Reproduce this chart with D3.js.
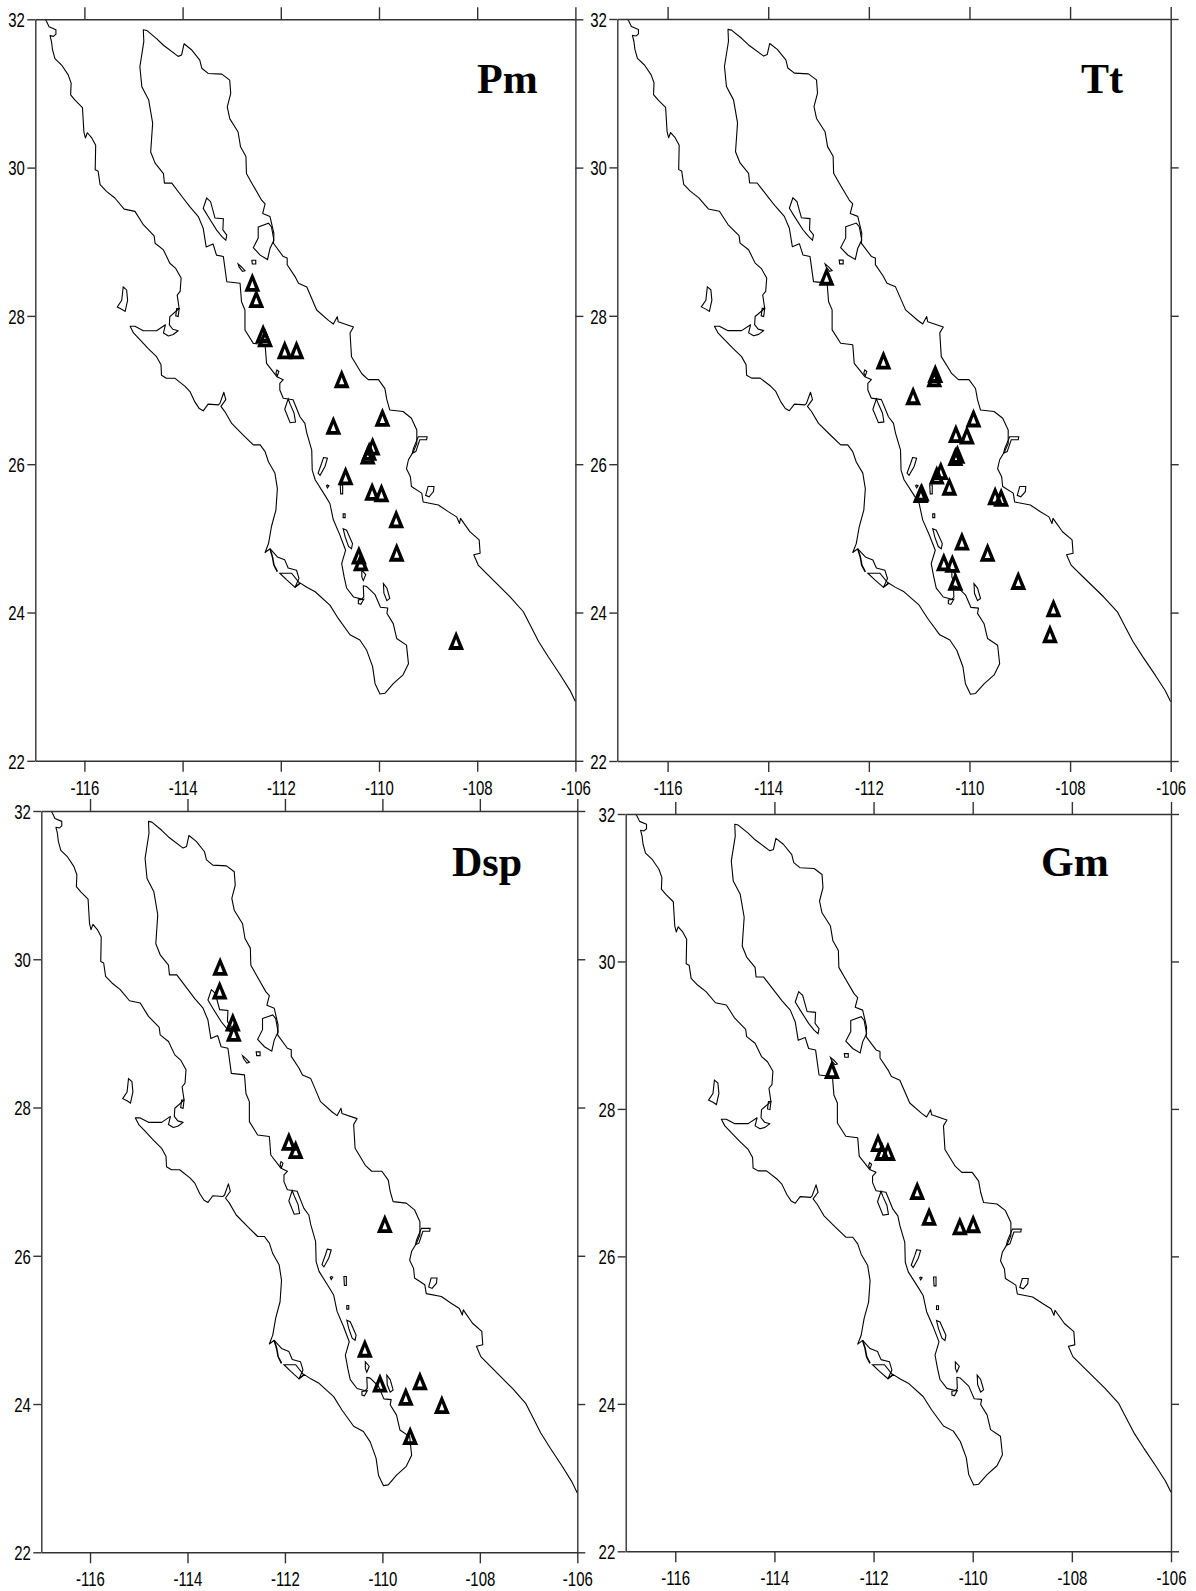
<!DOCTYPE html>
<html><head><meta charset="utf-8">
<script src="https://cdnjs.cloudflare.com/ajax/libs/d3/7.8.5/d3.min.js"></script>
<style>html,body{margin:0;padding:0;background:#fff}svg{display:block}</style>
</head><body><svg id="c" width="1196" height="1591"></svg>
<script>
// Coastline of the Baja California peninsula and the Sonora/Sinaloa coast, [lon, lat]
const coastline = [[-116.80,32.00],[-116.77,31.97],[-116.72,31.90],[-116.58,31.86],[-116.58,31.80],[-116.63,31.77],[-116.70,31.78],[-116.67,31.70],[-116.65,31.59],[-116.60,31.47],[-116.46,31.38],[-116.33,31.25],[-116.27,31.14],[-116.28,30.98],[-116.19,30.91],[-116.04,30.81],[-116.01,30.48],[-115.98,30.40],[-115.94,30.47],[-115.85,30.40],[-115.77,30.30],[-115.78,29.97],[-115.72,29.95],[-115.68,29.77],[-115.55,29.68],[-115.38,29.59],[-115.19,29.44],[-114.97,29.41],[-114.80,29.23],[-114.58,29.08],[-114.56,28.98],[-114.39,28.89],[-114.26,28.71],[-114.14,28.64],[-114.03,28.51],[-114.05,28.33],[-114.11,28.28],[-114.07,28.10],[-114.26,27.99],[-114.27,27.88],[-114.20,27.82],[-114.09,27.80],[-114.19,27.75],[-114.29,27.73],[-114.39,27.77],[-114.35,27.88],[-114.53,27.80],[-114.80,27.80],[-114.97,27.86],[-115.07,27.86],[-115.00,27.77],[-114.87,27.68],[-114.70,27.56],[-114.53,27.45],[-114.44,27.34],[-114.43,27.20],[-114.33,27.16],[-114.16,27.16],[-113.95,27.05],[-113.85,26.98],[-113.75,26.84],[-113.66,26.75],[-113.58,26.72],[-113.48,26.81],[-113.27,26.80],[-113.24,26.82],[-113.16,26.97],[-113.12,26.87],[-113.22,26.78],[-113.14,26.71],[-113.00,26.55],[-112.76,26.39],[-112.56,26.26],[-112.42,26.26],[-112.32,26.17],[-112.25,26.03],[-112.12,25.88],[-112.07,25.67],[-112.10,25.38],[-112.19,25.16],[-112.25,24.93],[-112.32,24.81],[-112.22,24.86],[-112.07,24.75],[-111.92,24.71],[-111.85,24.60],[-111.68,24.57],[-111.63,24.46],[-111.71,24.34],[-111.61,24.40],[-111.47,24.34],[-111.30,24.28],[-111.00,24.10],[-110.83,23.92],[-110.59,23.70],[-110.39,23.63],[-110.25,23.49],[-110.13,23.27],[-110.08,23.04],[-109.98,22.90],[-109.88,22.91],[-109.71,23.04],[-109.51,23.16],[-109.40,23.31],[-109.44,23.56],[-109.64,23.65],[-109.71,23.85],[-109.84,23.99],[-109.82,24.06],[-109.97,24.07],[-110.08,24.24],[-110.25,24.35],[-110.32,24.36],[-110.31,24.21],[-110.35,24.18],[-110.52,24.21],[-110.66,24.33],[-110.71,24.48],[-110.76,24.66],[-110.68,24.84],[-110.80,25.05],[-110.93,25.25],[-111.00,25.47],[-111.10,25.58],[-111.30,25.79],[-111.36,25.92],[-111.37,26.19],[-111.47,26.42],[-111.51,26.55],[-111.61,26.64],[-111.75,26.87],[-111.95,26.89],[-112.02,27.00],[-112.02,27.09],[-111.95,27.14],[-112.08,27.18],[-112.29,27.36],[-112.32,27.61],[-112.56,27.63],[-112.73,27.81],[-112.73,28.08],[-112.80,28.19],[-112.83,28.44],[-113.10,28.46],[-113.17,28.80],[-113.31,28.82],[-113.38,28.97],[-113.52,28.93],[-113.58,29.18],[-113.68,29.34],[-113.85,29.47],[-113.99,29.59],[-114.22,29.79],[-114.37,29.79],[-114.39,29.92],[-114.56,30.06],[-114.65,30.21],[-114.61,30.60],[-114.69,30.91],[-114.83,31.09],[-114.87,31.36],[-114.79,31.70],[-114.80,31.86],[-114.73,31.85],[-114.53,31.74],[-114.39,31.65],[-114.09,31.50],[-114.02,31.52],[-113.97,31.67],[-113.82,31.59],[-113.65,31.45],[-113.61,31.34],[-113.48,31.27],[-113.20,31.26],[-113.04,31.18],[-113.02,31.00],[-113.09,30.82],[-113.04,30.66],[-112.87,30.48],[-112.82,30.28],[-112.71,30.15],[-112.70,29.92],[-112.59,29.79],[-112.39,29.56],[-112.32,29.51],[-112.37,29.38],[-112.22,29.34],[-112.14,29.11],[-112.15,28.98],[-111.95,28.80],[-111.87,28.78],[-111.87,28.69],[-111.71,28.53],[-111.64,28.44],[-111.47,28.39],[-111.27,28.08],[-111.03,27.94],[-110.93,27.89],[-110.85,27.99],[-110.83,27.92],[-110.52,27.85],[-110.59,27.77],[-110.56,27.45],[-110.35,27.22],[-110.22,27.14],[-110.01,27.14],[-109.88,27.02],[-109.84,26.87],[-109.78,26.73],[-109.51,26.71],[-109.34,26.62],[-109.23,26.46],[-109.23,26.28],[-109.30,26.17],[-109.40,26.06],[-109.44,25.94],[-109.36,25.83],[-109.34,25.70],[-109.13,25.61],[-109.10,25.49],[-108.79,25.45],[-108.59,25.36],[-108.42,25.29],[-108.36,25.20],[-108.34,25.27],[-108.15,25.09],[-107.96,24.98],[-107.94,24.80],[-108.07,24.78],[-107.98,24.64],[-107.74,24.48],[-107.33,24.21],[-107.06,24.01],[-106.89,23.79],[-106.75,23.61],[-106.55,23.40],[-106.31,23.16],[-106.11,22.95],[-106.00,22.80]];
// Barrier strip on the Pacific side, an open line
const barrierStrip = [[-112.22,24.86],[-112.17,24.75],[-112.14,24.64],[-112.07,24.55]];
// Islands and lagoons, closed outlines, [lon, lat]
const islands = [
 [[-113.58,29.45],[-113.51,29.59],[-113.43,29.54],[-113.34,29.32],[-113.17,29.31],[-113.18,29.16],[-113.10,29.09],[-113.12,29.02],[-113.20,29.07],[-113.31,29.16],[-113.48,29.34]],
 [[-112.87,28.70],[-112.80,28.66],[-112.73,28.61],[-112.78,28.60],[-112.85,28.66]],
 [[-112.59,28.75],[-112.51,28.75],[-112.51,28.70],[-112.58,28.70]],
 [[-112.46,29.20],[-112.25,29.25],[-112.19,29.20],[-112.14,29.02],[-112.22,28.91],[-112.27,28.76],[-112.42,28.82],[-112.56,28.92],[-112.46,29.05]],
 [[-115.21,28.39],[-115.14,28.35],[-115.12,28.21],[-115.17,28.06],[-115.24,28.09],[-115.33,28.12],[-115.24,28.21]],
 [[-114.12,28.10],[-114.07,28.10],[-114.09,27.99],[-114.14,28.00]],
 [[-112.08,27.27],[-112.04,27.25],[-112.07,27.19],[-112.10,27.23]],
 [[-111.85,26.88],[-111.92,26.74],[-111.81,26.56],[-111.70,26.57],[-111.73,26.69],[-111.81,26.81]],
 [[-111.13,26.09],[-111.05,26.08],[-111.10,25.97],[-111.20,25.85],[-111.24,25.88],[-111.17,26.01]],
 [[-111.05,25.72],[-111.02,25.71],[-111.05,25.68],[-111.07,25.71]],
 [[-110.79,25.72],[-110.74,25.72],[-110.74,25.60],[-110.78,25.60]],
 [[-110.73,25.33],[-110.69,25.33],[-110.69,25.28],[-110.73,25.28]],
 [[-110.73,25.13],[-110.66,25.11],[-110.54,24.93],[-110.56,24.86],[-110.62,24.89],[-110.69,25.02]],
 [[-109.91,24.39],[-109.84,24.33],[-109.78,24.19],[-109.84,24.16],[-109.90,24.26]],
 [[-110.35,24.57],[-110.27,24.51],[-110.32,24.43],[-110.35,24.48]],
 [[-110.42,24.17],[-110.31,24.18],[-110.37,24.11],[-110.42,24.12]],
 [[-112.02,24.53],[-111.78,24.53],[-111.61,24.39],[-111.71,24.34],[-111.88,24.44]],
 [[-109.20,26.37],[-109.02,26.37],[-109.03,26.33],[-109.17,26.33],[-109.25,26.17],[-109.32,26.15],[-109.30,26.21]],
 [[-109.00,25.70],[-108.88,25.70],[-108.89,25.63],[-108.98,25.56],[-109.05,25.58]]
];
// Station positions per panel, [lon, lat]
const pmStations = [[-112.58,28.45],[-112.50,28.23],[-112.36,27.76],[-112.32,27.70],[-111.92,27.54],[-111.68,27.54],[-110.76,27.15],[-109.93,26.63],[-110.93,26.52],[-110.13,26.24],[-110.20,26.17],[-110.23,26.12],[-110.68,25.84],[-110.14,25.63],[-109.95,25.61],[-109.65,25.26],[-109.64,24.81],[-110.41,24.77],[-110.37,24.68],[-108.43,23.62]];
const ttStations = [[-112.84,28.53],[-111.71,27.40],[-110.68,27.22],[-110.70,27.16],[-111.12,26.92],[-109.92,26.62],[-110.27,26.41],[-110.05,26.39],[-110.24,26.13],[-110.28,26.10],[-110.57,25.91],[-110.65,25.85],[-110.40,25.70],[-110.95,25.62],[-110.97,25.60],[-109.49,25.57],[-109.37,25.55],[-110.15,24.96],[-109.64,24.81],[-110.51,24.68],[-110.34,24.66],[-110.28,24.42],[-109.03,24.43],[-108.33,24.06],[-108.40,23.71]];
const dspStations = [[-113.33,29.90],[-113.34,29.58],[-113.07,29.15],[-113.05,29.01],[-111.92,27.54],[-111.78,27.43],[-109.95,26.43],[-110.36,24.75],[-110.05,24.28],[-109.23,24.31],[-109.52,24.10],[-108.78,23.99],[-109.43,23.57]];
const gmStations = [[-112.84,28.53],[-111.91,27.54],[-111.83,27.42],[-111.71,27.42],[-111.12,26.89],[-110.88,26.54],[-110.26,26.41],[-109.99,26.44]];
// Axis tick values
const lonTicks = [-116,-114,-112,-110,-108,-106];
const latTicks = [22,24,26,28,30,32];
const panelNames = ["Pm","Tt","Dsp","Gm"];
const panelStations = [pmStations,ttStations,dspStations,gmStations];
// Layout, kept apart from the data
const frames = [
 {l:35.3,r:575.4,t:19.3,b:760.8,tx:477,ty:93},
 {l:617.3,r:1170.7,t:19.0,b:761.0,tx:1081,ty:93},
 {l:41.3,r:577.3,t:811.0,b:1552.3,tx:452,ty:876},
 {l:625.7,r:1171.0,t:814.0,b:1551.3,tx:1041,ty:876}
];

const svg = d3.select("#c");
const axisColor = "#333";
const triPath = (()=>{const p=d3.path();
  p.moveTo(0,-10);p.lineTo(8,9.2);p.lineTo(-8,9.2);p.closePath();
  p.moveTo(0,-1.6);p.lineTo(2.6,5.4);p.lineTo(-2.6,5.4);p.closePath();
  return p.toString();})();

frames.forEach((f,i)=>{
  const x=d3.scaleLinear().domain([-117,-106]).range([f.l,f.r]);
  const y=d3.scaleLinear().domain([22,32]).range([f.b,f.t]);
  const g=svg.append("g");
  const line=d3.line().x(d=>x(d[0])).y(d=>y(d[1]));

  g.append("path").attr("d",line(coastline)).attr("fill","none").attr("stroke","#000").attr("stroke-width",1.1).attr("stroke-linejoin","round");
  g.append("path").attr("d",line(barrierStrip)).attr("fill","none").attr("stroke","#000").attr("stroke-width",1.6);
  g.selectAll("path.isl").data(islands).join("path").attr("class","isl")
    .attr("d",d=>line(d)+"Z").attr("fill","none").attr("stroke","#000").attr("stroke-width",1.1);

  const style=(a)=>{a.selectAll("path.domain").attr("stroke",axisColor).attr("stroke-width",1.4);
    a.selectAll(".tick line").attr("stroke",axisColor).attr("stroke-width",1.4);};
  const tf=d=>d3.format("d")(d).replace("\u2212","-");
  const bottom=g.append("g").attr("transform",`translate(0,${f.b})`)
    .call(d3.axisBottom(x).tickValues(lonTicks).tickSize(11).tickSizeOuter(0).tickFormat(tf));
  bottom.selectAll("text").attr("x",0).attr("y",0).attr("dy",null).attr("text-anchor","middle")
    .attr("transform","translate(0,34) scale(0.73,1)");
  const left=g.append("g").attr("transform",`translate(${f.l},0)`)
    .call(d3.axisLeft(y).tickValues(latTicks).tickSize(8).tickSizeOuter(0).tickFormat(tf));
  left.selectAll("text").attr("x",0).attr("y",0).attr("dy",null).attr("text-anchor","end")
    .attr("transform","translate(-10.5,7.3) scale(0.73,1)");
  const top=g.append("g").attr("transform",`translate(0,${f.t})`)
    .call(d3.axisTop(x).tickValues(lonTicks).tickSize(12).tickSizeOuter(0).tickFormat(""));
  const right=g.append("g").attr("transform",`translate(${f.r},0)`)
    .call(d3.axisRight(y).tickValues(latTicks).tickSize(8).tickSizeOuter(0).tickFormat(""));
  [bottom,left,top,right].forEach(style);
  g.selectAll("g.tick text").attr("font-family","'Liberation Sans',Arial,sans-serif").attr("font-size",20.5).attr("fill","#000");

  g.selectAll("path.st").data(panelStations[i]).join("path").attr("class","st")
    .attr("transform",d=>`translate(${x(d[0])},${y(d[1])})`)
    .attr("d",triPath).attr("fill","#000").attr("fill-rule","evenodd");

  g.append("text").attr("x",f.tx).attr("y",f.ty).text(panelNames[i])
    .attr("font-family","'Liberation Serif','Times New Roman',serif").attr("font-weight","bold").attr("font-size",42).attr("fill","#000");
});
</script></body></html>
